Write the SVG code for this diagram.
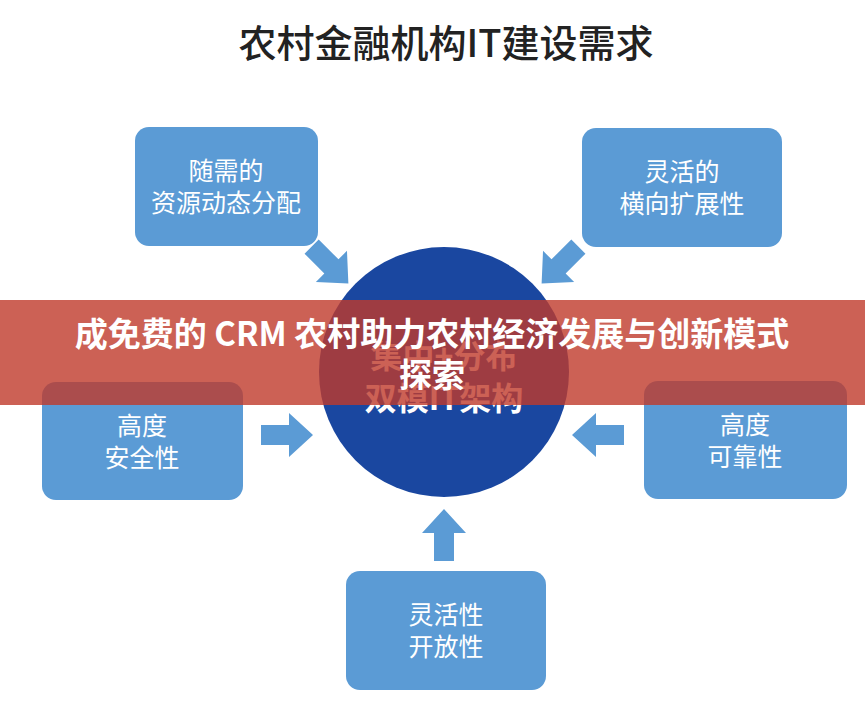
<svg xmlns="http://www.w3.org/2000/svg" xmlns:xlink="http://www.w3.org/1999/xlink" width="865" height="707" viewBox="0 0 865 707">
<style>
.box{fill:#5b9bd5}
.bt{font-family:"Noto Sans CJK SC","Noto Sans",sans-serif;font-size:25px;fill:#fff;text-anchor:middle}
.arr{fill:#5b9bd5}
</style>
<defs><path id="a" d="M-26,-10 H2 V-22 L26,0 L2,22 V10 H-26 Z"/></defs>
<rect width="865" height="707" fill="#fff"/>
<text x="446" y="57" font-family="Noto Sans CJK SC,sans-serif" font-size="38" font-weight="500" fill="#222" text-anchor="middle">农村金融机构IT建设需求</text>
<g id="center"><circle cx="444" cy="372" r="125" fill="#1a47a0"/>
<text class="bt" x="444" y="368" style="font-size:32px" font-weight="bold">集中+分布</text>
<text class="bt" x="444" y="410" style="font-size:32px" font-weight="bold">双模IT架构</text></g>
<g id="n1"><rect class="box" x="135" y="127" width="183" height="119" rx="14"/><text class="bt" x="226" y="180">随需的</text><text class="bt" x="226" y="212">资源动态分配</text></g>
<g id="n2"><rect class="box" x="582" y="128" width="200" height="119" rx="14"/><text class="bt" x="682" y="181">灵活的</text><text class="bt" x="682" y="213">横向扩展性</text></g>
<g id="n3"><rect class="box" x="42" y="382" width="201" height="118" rx="14"/><text class="bt" x="142" y="435">高度</text><text class="bt" x="142" y="467">安全性</text></g>
<g id="n4"><rect class="box" x="644" y="381" width="203" height="118" rx="14"/><text class="bt" x="745" y="434">高度</text><text class="bt" x="745" y="466">可靠性</text></g>
<g id="n5"><rect class="box" x="346" y="571" width="200" height="119" rx="14"/><text class="bt" x="446" y="624">灵活性</text><text class="bt" x="446" y="656">开放性</text></g>
<g id="connectors">
<use href="#a" class="arr" transform="translate(330,265) rotate(45)"/>
<use href="#a" class="arr" transform="translate(560,265) rotate(135)"/>
<use href="#a" class="arr" transform="translate(287,435)"/>
<use href="#a" class="arr" transform="translate(598,435) rotate(180)"/>
<use href="#a" class="arr" transform="translate(444,535) rotate(-90)"/>
</g>
<rect x="0" y="300" width="865" height="105" fill="#bf3a2a" fill-opacity="0.8"/>
<text x="432" y="346" font-family="Noto Sans CJK SC,sans-serif" font-size="33" font-weight="bold" fill="#fff" text-anchor="middle">成免费的 CRM 农村助力农村经济发展与创新模式</text>
<text x="432" y="387" font-family="Noto Sans CJK SC,sans-serif" font-size="33" font-weight="bold" fill="#fff" text-anchor="middle">探索</text>
</svg>
